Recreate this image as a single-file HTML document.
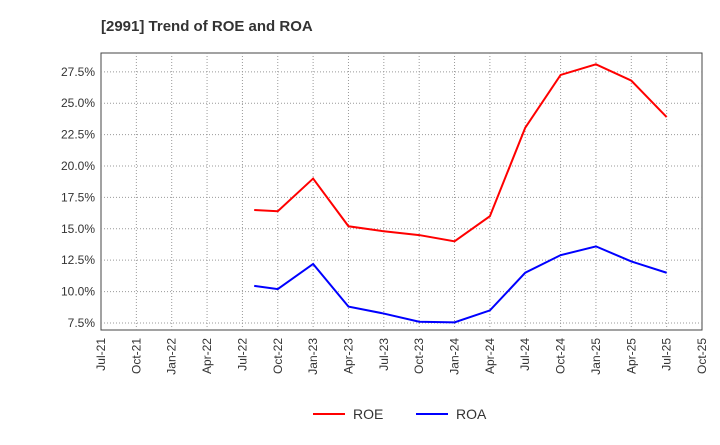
<!DOCTYPE html>
<html><head><meta charset="utf-8"><style>
body{margin:0;background:#fff;font-family:"Liberation Sans",sans-serif;}
</style></head><body>
<svg width="720" height="440" xmlns="http://www.w3.org/2000/svg">
<text x="101" y="31" font-size="15" font-weight="bold" fill="#333">[2991]  Trend of ROE and ROA</text>
<rect x="101" y="53" width="601" height="277" fill="#fff" stroke="#444"/>
<g id="grid"></g><g id="axes"></g><g id="series"></g>
<g>
<line x1="313" y1="414" x2="345" y2="414" stroke="#f00" stroke-width="2"/>
<text x="353" y="419" font-size="14" fill="#333">ROE</text>
<line x1="416" y1="414" x2="448" y2="414" stroke="#00f" stroke-width="2"/>
<text x="456" y="419" font-size="14" fill="#333">ROA</text>
</g>
</svg>
<script>
const xLabels=["Jul-21","Oct-21","Jan-22","Apr-22","Jul-22","Oct-22","Jan-23","Apr-23","Jul-23","Oct-23","Jan-24","Apr-24","Jul-24","Oct-24","Jan-25","Apr-25","Jul-25","Oct-25"];
const yTicks=[7.5,10,12.5,15,17.5,20,22.5,25,27.5];
const months=[13,15,18,21,24,27,30,33,36,39,42,45,48];
const roe=[16.5,16.4,19.0,15.2,14.8,14.5,14.0,16.0,23.05,27.25,28.1,26.8,23.9];
const roa=[10.45,10.2,12.2,8.8,8.25,7.6,7.55,8.5,11.5,12.9,13.6,12.4,11.5];
const X0=101,X1=702,Y0=53,Y1=330,YMIN=6.94,YMAX=29.0,MMAX=51;
const xs=m=>X0+(X1-X0)*m/MMAX;
const ys=v=>Y1-(Y1-Y0)*(v-YMIN)/(YMAX-YMIN);
const NS="http://www.w3.org/2000/svg";
function mk(t,a,p){const e=document.createElementNS(NS,t);for(const k in a)e.setAttribute(k,a[k]);p.appendChild(e);return e;}
const grid=document.getElementById('grid'),axes=document.getElementById('axes'),ser=document.getElementById('series');
xLabels.forEach((l,i)=>{const x=xs(i*3);
 if(i>0&&i<xLabels.length-1){const g=mk('line',{x1:x,x2:x,y1:Y0,y2:Y1,stroke:'#999','stroke-dasharray':'1,2'},grid);
 
 }
 const t=mk('text',{x:0,y:0,'font-size':12,fill:'#333','text-anchor':'end',transform:`translate(${x+4},${Y1+8}) rotate(-90)`},axes);
 t.textContent=l;
 
 
});
yTicks.forEach(v=>{const y=ys(v);
 const g=mk('line',{x1:X0,x2:X1,y1:y,y2:y,stroke:'#999','stroke-dasharray':'1,2'},grid);
 
 
 const t=mk('text',{x:X0-6,y:y+4,'font-size':12,fill:'#333','text-anchor':'end'},axes);
 t.textContent=v.toFixed(1)+'%';
 
 
});
function line(d,c,n){const p=mk('polyline',{points:d.map((v,i)=>xs(months[i])+','+ys(v)).join(' '),fill:'none',stroke:c,'stroke-width':2},ser);
 
 }
line(roe,'#f00','roe-line');
line(roa,'#00f','roa-line');
</script>
</body></html>
